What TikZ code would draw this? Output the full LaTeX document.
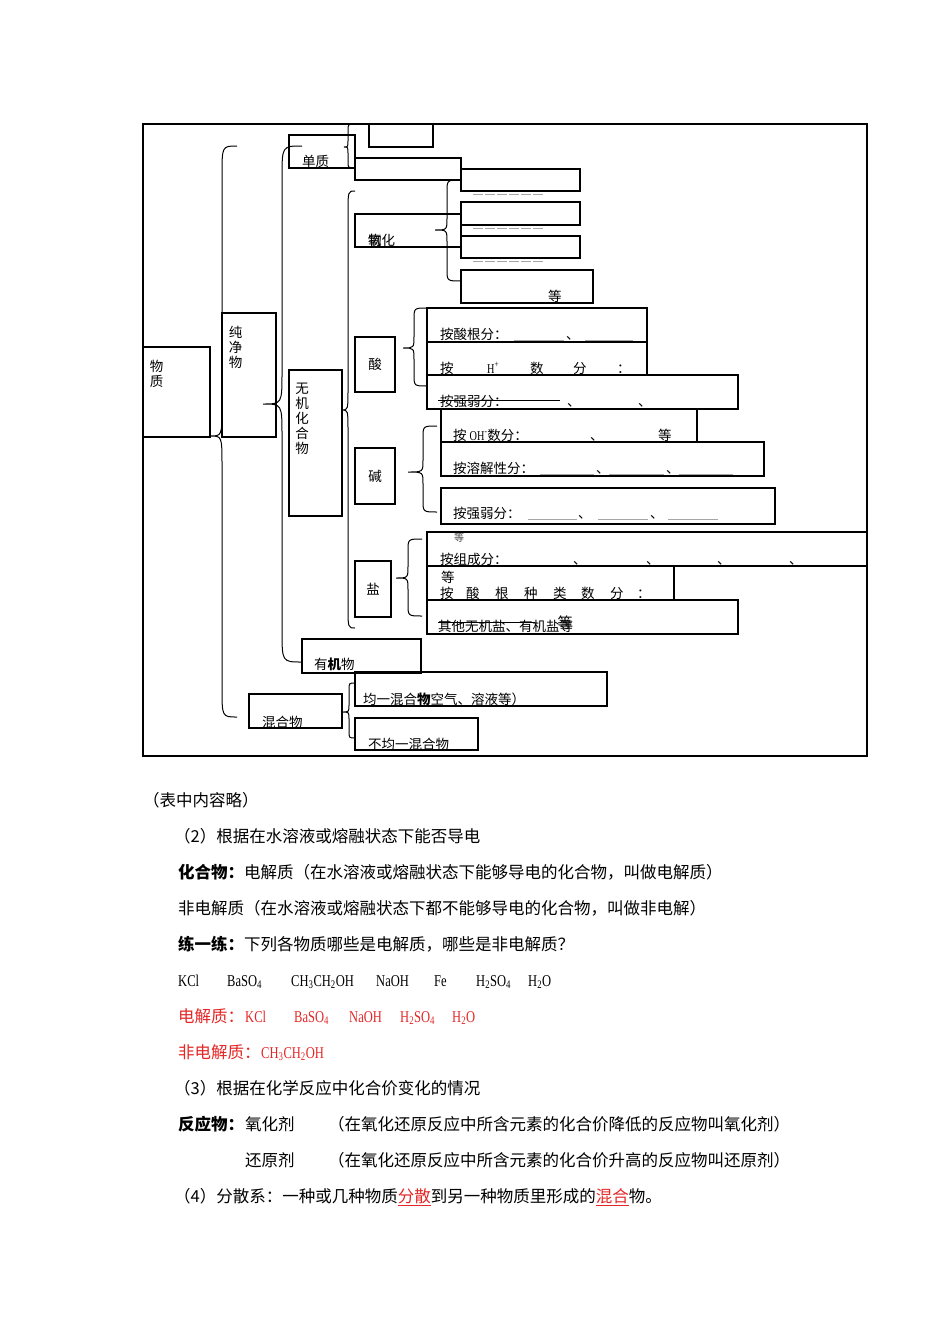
\documentclass[tikz,border=0pt]{standalone}
\usepackage{fontspec}
\setmainfont{Noto Sans CJK SC}
\newfontfamily\latfont[FakeStretch=0.76]{Liberation Serif}
\definecolor{hongse}{RGB}{228,38,38}
\newcommand{\hongxian}[1]{{\color{hongse}\underline{#1}}}
% brace: end x, top y, stem x, tip x, tip y, bottom y, radius
\newcommand{\dakuohao}[7]{%
  \draw[kh] (#1,#2) .. controls (#3,#2) .. (#3,{#2+#7}) -- (#3,{#5-#7})
    .. controls (#3,#5) .. (#4,#5) .. controls (#3,#5) .. (#3,{#5+#7})
    -- (#3,{#6-#7}) .. controls (#3,#6) .. (#1,#6);}
\tikzset{
  kuang/.style={draw, line width=1.2pt, anchor=north west, inner sep=0pt, outer sep=0pt},
  wz/.style={font=\fontsize{13.5}{15}\selectfont, anchor=base west, inner sep=0pt},
  zi/.style={font=\fontsize{13.5}{15}\selectfont, inner sep=0pt},
  shu/.style={font=\fontsize{13.5}{15}\selectfont, align=center, anchor=north, inner sep=0pt},
  zw/.style={font=\fontsize{16.5}{20}\selectfont, anchor=base west, inner sep=0pt},
  hx/.style={font=\latfont\fontsize{16.5}{20}\selectfont, anchor=base west, inner sep=0pt},
  kh/.style={line width=1pt},
  kongxian/.style={line width=0.6pt, gray!70},
}
\begin{document}
\begin{tikzpicture}[x=1pt, y=-1pt]
\useasboundingbox (0,0) rectangle (950,1344);
\fill[white] (0,0) rectangle (950,1344);

\node[kuang, minimum width=724, minimum height=632] (kuangjia) at (143,124) {};
\node[kuang, minimum width=67, minimum height=90] (wuzhi) at (143,347) {};
\node[kuang, minimum width=54, minimum height=124] (chunjing) at (222,313) {};
\node[kuang, minimum width=66, minimum height=33] (danzhi) at (289,135) {};
\node[kuang, minimum width=64, minimum height=23] (dz1) at (369,124) {};
\node[kuang, minimum width=106, minimum height=22] (dz2) at (355,158) {};
\node[kuang, minimum width=106, minimum height=33] (yanghua) at (355,214) {};
\node[kuang, minimum width=119, minimum height=22] (yh1) at (461,169) {};
\node[kuang, minimum width=119, minimum height=23] (yh2) at (461,202) {};
\node[kuang, minimum width=119, minimum height=22] (yh3) at (461,236) {};
\node[kuang, minimum width=132, minimum height=33] (yh4) at (461,270) {};
\node[kuang, minimum width=53, minimum height=146] (wuji) at (289,370) {};
\node[kuang, minimum width=40, minimum height=55] (suan) at (355,337) {};
\node[kuang, minimum width=220, minimum height=34] (suan1) at (427,308) {};
\node[kuang, minimum width=220, minimum height=33] (suan2) at (427,342) {};
\node[kuang, minimum width=311, minimum height=34] (suan3) at (427,375) {};
\node[kuang, minimum width=40, minimum height=56] (jian) at (355,448) {};
\node[kuang, minimum width=256, minimum height=33] (jian1) at (441,409) {};
\node[kuang, minimum width=323, minimum height=34] (jian2) at (441,442) {};
\node[kuang, minimum width=334, minimum height=36] (jian3) at (441,488) {};
\node[kuang, minimum width=36, minimum height=56] (yan) at (355,561) {};
\node[kuang, minimum width=440, minimum height=34] (yan1) at (427,532) {};
\node[kuang, minimum width=247, minimum height=34] (yan2) at (427,566) {};
\node[kuang, minimum width=311, minimum height=34] (yan3) at (427,600) {};
\node[kuang, minimum width=119, minimum height=34] (youji) at (302,639) {};
\node[kuang, minimum width=93, minimum height=34] (hunhe) at (249,694) {};
\node[kuang, minimum width=252, minimum height=34] (junyi) at (355,672) {};
\node[kuang, minimum width=123, minimum height=32] (bujunyi) at (355,718) {};

\dakuohao{237}{146}{222}{210}{436}{717}{30}
\dakuohao{302}{146}{282}{263}{404}{662}{32}
\dakuohao{355}{124}{348}{344}{147}{168}{7}
\dakuohao{355}{191}{348}{342}{410}{628}{22}
\dakuohao{461}{180}{447}{435}{230}{281}{12}
\dakuohao{427}{308}{414}{403}{348}{386}{12}
\dakuohao{437}{426}{423}{408}{472}{512}{12}
\dakuohao{422}{539}{408}{396}{578}{616}{12}
\dakuohao{355}{683}{349}{342}{712}{738}{7}

\node[shu] (t-wuzhi) at (156.5,360) {物\\质};
\node[shu] (t-chunjing) at (235.5,326) {纯\\净\\物};
\node[shu] (t-wuji) at (302,383) {无\\机\\化\\合\\物};
\node[wz] (t-danzhi) at (302,166) {单质};
\node[wz] (t-yanghua) at (368,245) {\rlap{氧}物化};
\node[wz] (t-deng1) at (548,301) {等};
\foreach \y in {194,228,261}
  \draw[kongxian, dash pattern=on 10pt off 2pt] (473,\y) -- (543,\y);

\node[zi] (t-suan) at (suan) {酸};
\node[zi] (t-jian) at (jian) {碱};
\node[zi] (t-yan) at (yan) {盐};

\node[wz] (t-s1) at (440,339) {按酸根分：};
\node[wz] (t-s1a) at (566,339) {、};
\draw[kongxian] (514,340) -- (564,340) (585,340) -- (633,340);
\foreach \x/\t [count=\i] in {440/按, 487/{\latfont H\textsuperscript{+}}, 530/数, 573/分, 617/：}
  \node[wz] (t-s2-\i) at (\x,373) {\t};
\node[wz] (t-s3) at (440,406) {按强弱分：};
\foreach \x [count=\i] in {567,638}
  \node[wz] (t-s3-\i) at (\x,406) {、};
\draw[line width=0.9pt] (438,400) -- (560,400);

\node[wz] (t-j1) at (453,440) {按 {\latfont OH\textsuperscript{-}}数分：};
\node[wz] (t-j1a) at (590,440) {、};
\node[wz] (t-j1b) at (658,440) {等};
\node[wz] (t-j2) at (453,473) {按溶解性分：};
\foreach \x [count=\i] in {596,666}
  \node[wz] (t-j2-\i) at (\x,473) {、};
\draw[kongxian] (540,474) -- (594,474) (609,474) -- (664,474) (679,474) -- (733,474);
\node[wz] (t-j3) at (453,518) {按强弱分：};
\foreach \x [count=\i] in {578,650}
  \node[wz] (t-j3-\i) at (\x,518) {、};
\draw[kongxian] (528,519) -- (577,519) (598,519) -- (648,519) (668,519) -- (718,519);

\node[wz, font=\fontsize{10}{12}\selectfont, gray!50!black] (t-y0) at (454,541) {等};
\node[wz] (t-y1) at (440,564) {按组成分：};
\foreach \x [count=\i] in {573,646,717,789}
  \node[wz] (t-y1-\i) at (\x,564) {、};
\node[wz] (t-y2a) at (441,582) {等};
\foreach \x/\t [count=\i] in {440/按, 466/酸, 495/根, 524/种, 553/类, 581/数, 610/分, 637/：}
  \node[wz] (t-y2-\i) at (\x,598) {\t};
\node[wz] (t-y3) at (438,631) {其他无机盐、有机盐\rlap{\raisebox{3pt}{\kern-2pt\fontsize{15}{17}\selectfont 等}}等};
\draw[line width=0.9pt] (438,622) -- (535,622);

\node[wz] (t-youji) at (314,669) {有\textbf{机}物};
\node[wz] (t-hunhe) at (262,727) {混合物};
\node[wz] (t-junyi) at (363,704) {均一混合\textbf{物}空气、溶液等）};
\node[wz] (t-bujunyi) at (368,749) {不均一混合物};

\node[zw] (biaozhong) at (143,806) {（表中内容略）};
\node[zw] (daodian) at (174,842) {（2）根据在水溶液或熔融状态下能否导电};
\node[zw] (dianjie) at (178,878) {\textbf{化合物：}电解质（在水溶液或熔融状态下能够导电的化合物，叫做电解质）};
\node[zw] (feidian) at (178,914) {非电解质（在水溶液或熔融状态下都不能够导电的化合物，叫做非电解）};
\node[zw] (lianxi) at (178,950) {\textbf{练一练：}下列各物质哪些是电解质，哪些是非电解质？};
\foreach \x/\t [count=\i] in {178/KCl, 227/BaSO\textsubscript{4}, 291/CH\textsubscript{3}CH\textsubscript{2}OH, 376/NaOH, 434/Fe, 476/H\textsubscript{2}SO\textsubscript{4}, 528/H\textsubscript{2}O}
  \node[hx] (hx-\i) at (\x,986) {\t};
\node[zw, hongse] (da1) at (178,1022) {电解质：};
\foreach \x/\t [count=\i] in {245/KCl, 294/BaSO\textsubscript{4}, 349/NaOH, 400/H\textsubscript{2}SO\textsubscript{4}, 452/H\textsubscript{2}O}
  \node[hx, hongse] (da1-\i) at (\x,1022) {\t};
\node[zw, hongse] (da2) at (178,1058) {非电解质：};
\node[hx, hongse] (da2-1) at (261,1058) {CH\textsubscript{3}CH\textsubscript{2}OH};
\node[zw] (huajia) at (174,1094) {（3）根据在化学反应中化合价变化的情况};
\node[zw] (fanying) at (178,1130) {\textbf{反应物：}};
\node[zw] (yanghuaji) at (245,1130) {氧化剂};
\node[zw] (yanghuaji-s) at (328,1130) {（在氧化还原反应中所含元素的化合价降低的反应物叫氧化剂）};
\node[zw] (huanyuanji) at (245,1166) {还原剂};
\node[zw] (huanyuanji-s) at (328,1166) {（在氧化还原反应中所含元素的化合价升高的反应物叫还原剂）};
\node[zw] (fensan) at (174,1202) {（4）分散系：一种或几种物质\hongxian{分散}到另一种物质里形成的\hongxian{混合}物。};
\end{tikzpicture}
\end{document}
